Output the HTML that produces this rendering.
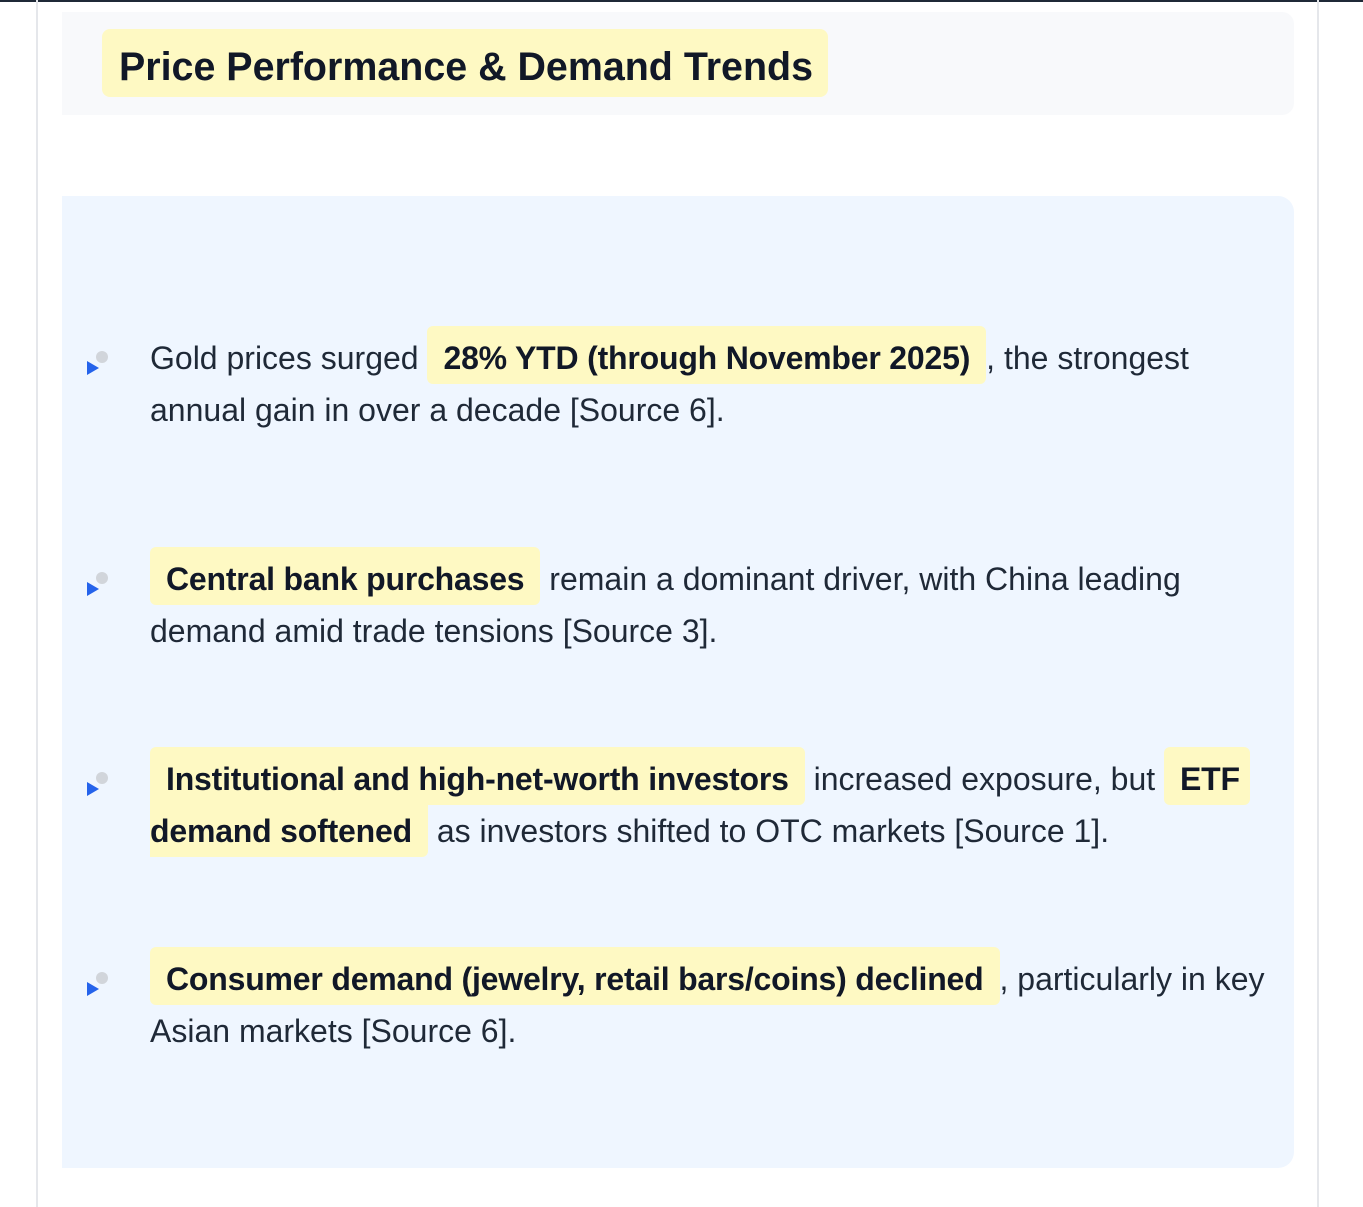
<!DOCTYPE html>
<html><head><meta charset="utf-8"><style>
body{margin:0;width:1363px;height:1207px;background:#fff;position:relative;overflow:hidden;font-family:"Segoe UI","Liberation Sans","DejaVu Sans",sans-serif;color:#1f2937}
.topline{position:absolute;left:0;top:0;width:1363px;height:2px;background:#1f2937}
.vl{position:absolute;top:0;width:2px;height:1207px;background:#e5e7eb}
.head{position:absolute;left:62px;top:12px;width:1232px;height:103px;background:#f8f9fb;border-radius:0 12px 12px 0}
.title{position:absolute;left:102px;top:29px;width:726px;height:68px;background:#fef9c3;border-radius:8px;font-weight:bold;font-size:39.4px;line-height:76px;color:#111827;text-indent:17px;white-space:nowrap;overflow:hidden}
.main{position:absolute;left:62px;top:196px;width:1232px;height:972px;background:#eff6ff;border-radius:0 16px 16px 0}
.line{position:absolute;left:150px;font-size:32px;white-space:nowrap;height:52px;line-height:52px}
.hl{display:inline-block;background:#fef9c3;border-radius:6px;font-weight:bold;color:#111827;padding:6px 16px 0 16px;line-height:52px;margin-top:-6px;vertical-align:baseline;letter-spacing:-0.2px}
.tri{position:absolute;width:0;height:0;border-left:12px solid #2563eb;border-top:7px solid transparent;border-bottom:7px solid transparent}
.dot{position:absolute;width:12px;height:12px;border-radius:50%;background:#d1d5db}
</style></head><body>
<div class="topline"></div>
<div class="vl" style="left:36px"></div>
<div class="vl" style="left:1317px"></div>
<div class="head"></div>
<div class="title">Price Performance &amp; Demand Trends</div>
<div class="main"></div>

<div><div class="tri" style="left:87px;top:361px"></div><div class="dot" style="left:96px;top:351px"></div></div>
<div class="line" style="top:332px">Gold prices surged <span class="hl">28% YTD (through November 2025)</span>, the strongest</div>
<div class="line" style="top:384px">annual gain in over a decade [Source 6].</div>

<div><div class="tri" style="left:87px;top:582px"></div><div class="dot" style="left:96px;top:572px"></div></div>
<div class="line" style="top:553px"><span class="hl">Central bank purchases</span> remain a dominant driver, with China leading</div>
<div class="line" style="top:605px">demand amid trade tensions [Source 3].</div>

<div><div class="tri" style="left:87px;top:782px"></div><div class="dot" style="left:96px;top:772px"></div></div>
<div class="line" style="top:753px"><span class="hl">Institutional and high-net-worth investors</span> increased exposure, but <span class="hl" style="padding-right:10px">ETF</span></div>
<div class="line" style="top:805px"><span class="hl" style="padding-left:0;border-radius:0 6px 6px 0">demand softened</span> as investors shifted to OTC markets [Source 1].</div>

<div><div class="tri" style="left:87px;top:982px"></div><div class="dot" style="left:96px;top:972px"></div></div>
<div class="line" style="top:953px"><span class="hl">Consumer demand (jewelry, retail bars/coins) declined</span>, particularly in key</div>
<div class="line" style="top:1005px">Asian markets [Source 6].</div>
</body></html>
